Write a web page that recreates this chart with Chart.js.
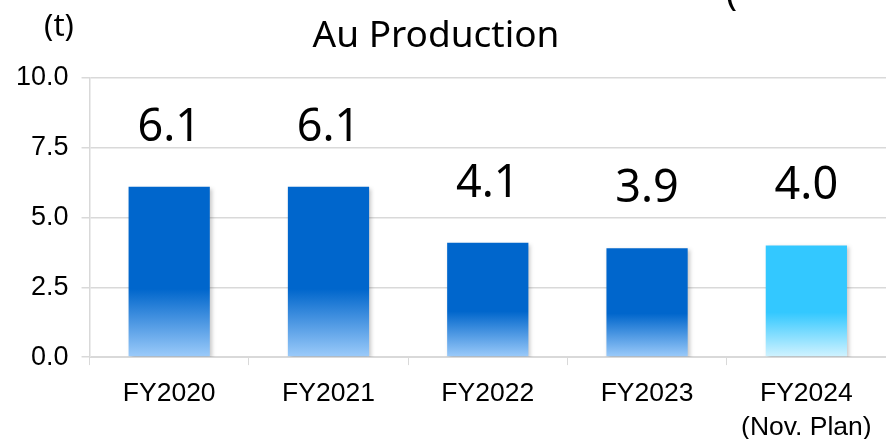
<!DOCTYPE html>
<html>
<head>
<meta charset="utf-8">
<script src="https://cdn.jsdelivr.net/npm/chart.js@4.4.1/dist/chart.umd.min.js"></script>
<style>
  html, body { margin: 0; padding: 0; background: #fff; }
  #wrap { width: 886px; height: 439px; }
</style>
</head>
<body>
<div id="wrap"><canvas id="au_chart"></canvas></div>
<script>
// values
var years = [['FY2020'], ['FY2021'], ['FY2022'], ['FY2023'], ['FY2024', '(Nov. Plan)']];
var production = [6.1, 6.1, 4.1, 3.9, 4.0];
var labelText = ['6.1', '6.1', '4.1', '3.9', '4.0'];
var yTicks = [0, 2.5, 5, 7.5, 10];

// top colour / bottom colour of each bar
var topColors = ['#0066cc', '#0066cc', '#0066cc', '#0066cc', '#33c8ff'];
var bottomColors = ['#9ccbfa', '#9ccbfa', '#9ccbfa', '#9ccbfa', '#d2f3ff'];

function barFill(ctx) {
  var chart = ctx.chart;
  var y = chart.scales.y;
  if (!chart.chartArea || !y) return topColors[ctx.dataIndex];
  var top = y.getPixelForValue(production[ctx.dataIndex]);
  var bottom = y.getPixelForValue(0);
  var g = chart.ctx.createLinearGradient(0, top, 0, bottom);
  g.addColorStop(0, topColors[ctx.dataIndex]);
  g.addColorStop(0.6, topColors[ctx.dataIndex]);
  g.addColorStop(1, bottomColors[ctx.dataIndex]);
  return g;
}

var extras = {
  id: 'extras',
  beforeDatasetsDraw: function (chart) {
    var c = chart.ctx;
    c.save();
    c.shadowColor = 'rgba(0,0,0,0.22)';
    c.shadowBlur = 4;
    c.shadowOffsetX = 2;
    c.shadowOffsetY = 2;
  },
  afterDatasetsDraw: function (chart) {
    chart.ctx.restore();
  },
  afterDraw: function (chart) {
    var c = chart.ctx;
    var meta = chart.getDatasetMeta(0);
    c.save();
    c.fillStyle = '#000';
    c.textAlign = 'center';
    c.textBaseline = 'alphabetic';
    c.font = '45px "Noto Sans"';
    meta.data.forEach(function (bar, i) {
      c.fillText(labelText[i], bar.x, bar.y - 46);
    });
    // title and unit
    c.font = '37px "Noto Sans"';
    c.fillText('Au Production', 436, 47);
    c.font = '31px "Noto Sans"';
    c.fillText('(t)', 59, 36);
    c.textAlign = 'left';
    c.font = '37px "Noto Sans"';
    c.fillText('(', 726, 5);
    c.restore();
  }
};

new Chart(document.getElementById('au_chart'), {
  type: 'bar',
  data: {
    labels: years,
    datasets: [{
      data: production,
      backgroundColor: barFill,
      borderWidth: 0,
      categoryPercentage: 1,
      barPercentage: 0.51
    }]
  },
  options: {
    responsive: true,
    maintainAspectRatio: false,
    animation: false,
    layout: { padding: { left: 3, right: 0, top: 78, bottom: -17 } },
    plugins: {
      legend: { display: false },
      tooltip: { enabled: false },
      title: { display: false }
    },
    scales: {
      x: {
        grid: { drawOnChartArea: false, color: '#d9d9d9', tickLength: 8, offset: true },
        border: { color: '#d9d9d9' },
        ticks: {
          color: '#000',
          padding: 11,
          font: { family: 'Liberation Sans', size: 26.5, lineHeight: 1.3 },
          maxRotation: 0
        }
      },
      y: {
        min: 0,
        max: 10,
        afterBuildTicks: function (axis) {
          axis.ticks = yTicks.map(function (v) { return { value: v }; });
        },
        grid: { color: '#d9d9d9', lineWidth: 1.5, tickLength: 8 },
        border: { color: '#d9d9d9', width: 1.5 },
        ticks: {
          color: '#000',
          padding: 13,
          font: { family: 'Liberation Sans', size: 27 },
          callback: function (v) { return v.toFixed(1); }
        }
      }
    }
  },
  plugins: [extras]
});
</script>
</body>
</html>
